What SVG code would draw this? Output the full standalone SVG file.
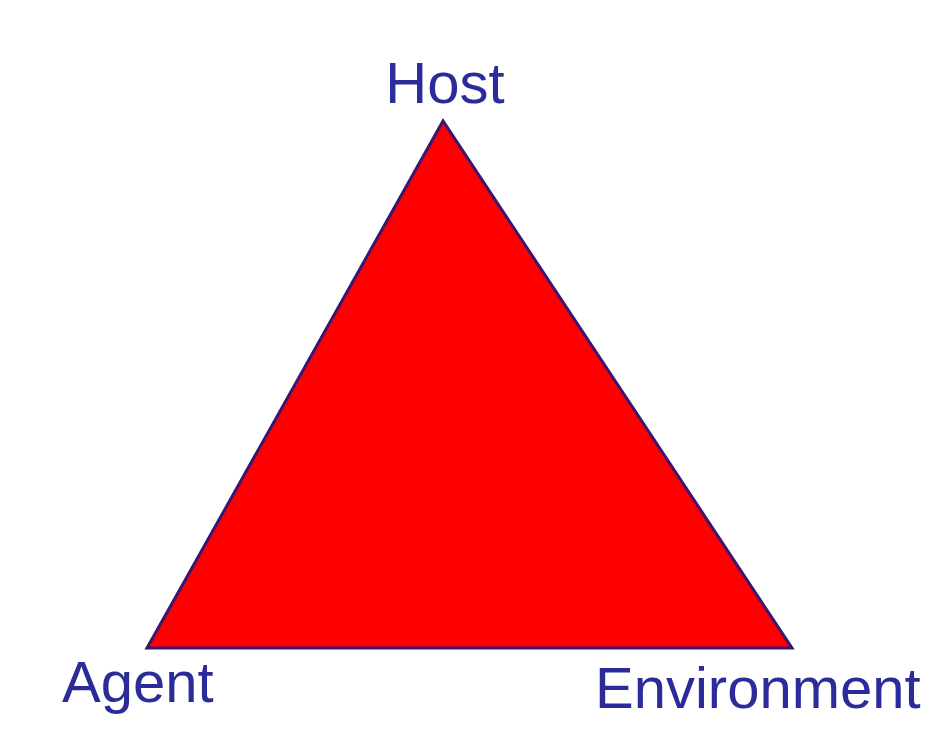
<svg xmlns="http://www.w3.org/2000/svg" width="940" height="730" viewBox="0 0 940 730">
  <style>
    .label { font-family: "Liberation Sans", Arial, sans-serif; font-size: 58px; fill: #2b2b9a; }
  </style>
  <rect width="940" height="730" fill="#ffffff"/>
  <g id="triangle">
    <polygon points="443,121 147,648 792,648" fill="#ff0000" stroke="#3a1670" stroke-width="3" stroke-linejoin="miter"/>
  </g>
  <g id="host">
    <text class="label" x="445" y="103" text-anchor="middle">Host</text>
  </g>
  <g id="agent">
    <text class="label" x="62" y="702">Agent</text>
  </g>
  <g id="environment">
    <text class="label" x="595" y="708">Environment</text>
  </g>
</svg>
